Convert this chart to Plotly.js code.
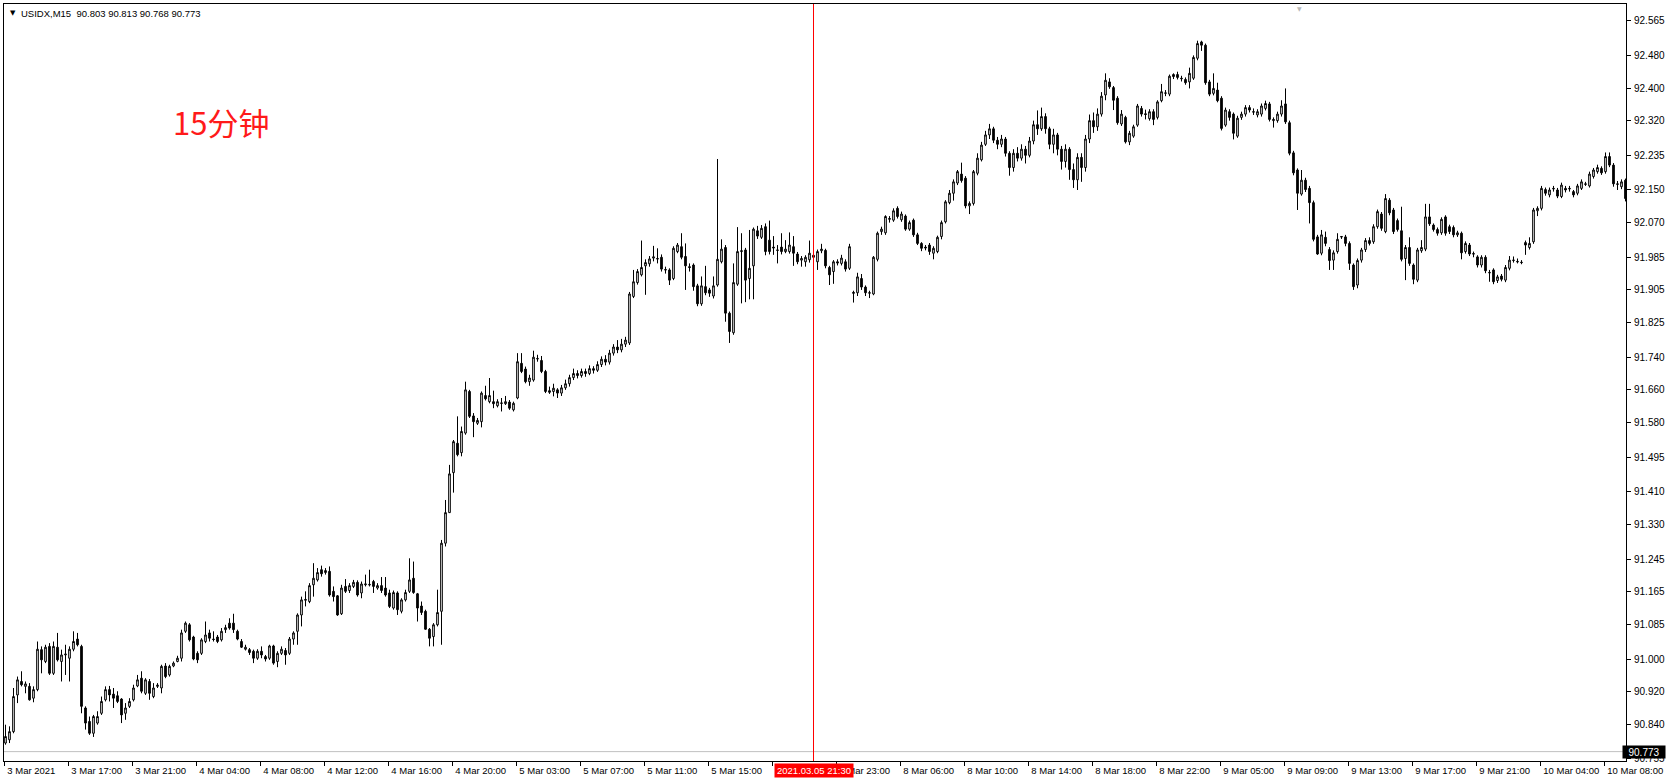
<!DOCTYPE html>
<html><head><meta charset="utf-8">
<script src="https://cdn.plot.ly/plotly-3.0.1.min.js"></script>
<style>html,body{margin:0;padding:0;background:#fff;overflow:hidden;} #chart{width:1669px;height:784px;}</style>
</head><body><div id="chart"></div>
<script>
const symbol = "USIDX,M15";
const headerValues = ["90.803", "90.813", "90.768", "90.773"];
const noteText = "15分钟";
const cursorBar = 202;
const cursorLabel = "2021.03.05 21:30";
const bidPrice = 90.773;

const openP = [
90.794,90.802,90.822,90.912,90.945,90.933,90.933,90.904,90.925,91.023,
90.994,91.031,90.965,91.029,90.994,91.010,91.002,91.024,91.049,91.031,
90.880,90.847,90.818,90.843,90.867,90.900,90.925,90.914,90.910,90.902,
90.867,90.884,90.900,90.934,90.953,90.916,90.945,90.908,90.933,90.929,
90.983,90.961,90.983,90.994,91.002,91.068,91.084,91.054,91.014,91.014,
91.043,91.064,91.049,91.054,91.047,91.072,91.088,91.088,91.068,91.043,
91.024,91.023,91.019,91.002,91.019,91.006,91.002,91.032,90.994,91.014,
91.021,91.014,91.049,91.068,91.108,91.144,91.141,91.182,91.194,91.219,
91.212,91.215,91.166,91.155,91.111,91.178,91.168,91.178,91.188,91.162,
91.182,91.183,91.190,91.174,91.180,91.174,91.162,91.125,91.162,91.117,
91.145,91.166,91.198,91.160,91.130,91.117,91.073,91.055,91.084,91.117,
91.284,91.359,91.457,91.529,91.506,91.554,91.656,91.596,91.578,91.582,
91.646,91.631,91.631,91.621,91.628,91.626,91.630,91.611,91.640,91.725,
91.711,91.680,91.684,91.737,91.732,91.705,91.658,91.656,91.660,91.652,
91.665,91.675,91.690,91.700,91.695,91.705,91.700,91.712,91.708,91.722,
91.735,91.728,91.750,91.765,91.758,91.772,91.775,91.889,91.923,91.942,
91.964,91.969,91.983,91.982,91.985,91.955,91.954,91.933,91.999,92.011,
91.987,91.962,91.966,91.915,91.871,91.913,91.905,91.890,91.917,91.974,
92.009,91.848,91.800,91.919,91.999,92.003,91.933,91.964,92.050,92.034,
92.060,92.027,92.010,92.003,92.010,91.999,91.999,92.011,91.993,91.978,
91.974,91.979,91.990,91.974,92.001,92.002,91.960,91.950,91.974,91.970,
91.974,91.958,91.899,91.898,91.933,91.912,91.897,91.895,91.980,92.048,
92.045,92.078,92.076,92.105,92.077,92.086,92.054,92.076,92.040,92.019,
92.010,92.015,91.995,91.999,92.036,92.072,92.119,92.142,92.167,92.189,
92.179,92.111,92.117,92.191,92.224,92.262,92.285,92.300,92.272,92.262,
92.275,92.240,92.205,92.240,92.228,92.250,92.235,92.270,92.310,92.300,
92.330,92.300,92.262,92.285,92.250,92.220,92.250,92.200,92.175,92.230,
92.205,92.275,92.320,92.305,92.336,92.383,92.415,92.401,92.375,92.312,
92.328,92.268,92.282,92.309,92.350,92.337,92.325,92.342,92.328,92.369,
92.387,92.385,92.433,92.433,92.424,92.421,92.415,92.424,92.473,92.513,
92.505,92.415,92.387,92.395,92.375,92.309,92.342,92.336,92.282,92.328,
92.336,92.352,92.342,92.334,92.336,92.350,92.361,92.320,92.320,92.336,
92.361,92.315,92.241,92.199,92.140,92.174,92.154,92.119,92.035,91.995,
92.034,92.004,91.978,91.999,92.036,92.035,92.019,91.966,91.917,91.978,
92.004,92.026,92.023,92.060,92.091,92.048,92.125,92.101,92.075,92.050,
91.982,92.009,91.966,91.929,92.001,92.005,92.084,92.064,92.053,92.045,
92.084,92.060,92.058,92.040,92.044,91.999,92.015,91.994,91.986,91.966,
91.985,91.948,91.954,91.928,91.939,91.929,91.958,91.977,91.975,91.973,
92.021,92.009,92.023,92.099,92.105,92.151,92.138,92.154,92.150,92.134,
92.154,92.154,92.146,92.142,92.154,92.165,92.160,92.183,92.195,92.203,
92.195,92.232,92.211,92.165,92.158,92.174
];
const highP = [
90.839,90.835,90.929,90.957,90.970,90.945,90.941,90.933,91.043,91.031,
91.035,91.039,91.043,91.064,91.023,91.035,91.031,91.068,91.064,91.035,
90.884,90.859,90.863,90.872,90.908,90.933,90.934,90.929,90.921,90.904,
90.892,90.904,90.937,90.961,90.970,90.953,90.951,90.941,90.941,90.986,
90.990,90.986,90.994,91.008,91.072,91.092,91.088,91.057,91.019,91.051,
91.092,91.072,91.068,91.059,91.076,91.084,91.100,91.111,91.072,91.049,
91.035,91.027,91.023,91.024,91.031,91.010,91.035,91.035,91.019,91.031,
91.027,91.054,91.068,91.112,91.153,91.166,91.186,91.235,91.223,91.229,
91.223,91.227,91.178,91.157,91.182,91.196,91.186,91.194,91.193,91.190,
91.207,91.219,91.194,91.186,91.201,91.201,91.170,91.168,91.166,91.149,
91.170,91.247,91.239,91.162,91.141,91.121,91.076,91.088,91.170,91.292,
91.390,91.476,91.537,91.595,91.570,91.680,91.660,91.603,91.591,91.656,
91.670,91.689,91.658,91.637,91.640,91.645,91.635,91.631,91.750,91.750,
91.717,91.697,91.756,91.746,91.743,91.709,91.668,91.675,91.664,91.672,
91.685,91.697,91.712,91.708,91.712,91.712,91.720,91.718,91.730,91.742,
91.745,91.758,91.772,91.782,91.785,91.790,91.900,91.954,91.956,92.026,
91.980,91.988,92.013,92.007,91.992,91.962,91.958,92.012,92.020,92.044,
92.019,91.970,91.970,91.920,91.938,91.964,91.910,91.938,92.226,92.029,
92.015,91.852,91.970,92.059,92.044,92.008,92.052,92.058,92.062,92.064,
92.068,92.075,92.037,92.015,92.044,92.027,92.046,92.037,91.998,91.988,
91.990,92.026,91.998,92.004,92.018,92.006,91.964,91.978,91.980,91.991,
91.980,92.018,91.903,91.947,91.944,91.916,91.903,91.988,92.048,92.060,
92.088,92.086,92.105,92.110,92.097,92.090,92.075,92.080,92.045,92.022,
92.015,92.020,92.012,92.038,92.075,92.125,92.150,92.176,92.199,92.217,
92.184,92.122,92.199,92.240,92.268,92.295,92.312,92.305,92.280,92.285,
92.280,92.245,92.250,92.255,92.262,92.258,92.280,92.320,92.345,92.352,
92.338,92.305,92.300,92.290,92.258,92.262,92.255,92.215,92.240,92.240,
92.285,92.335,92.340,92.350,92.390,92.436,92.424,92.405,92.380,92.346,
92.332,92.295,92.310,92.361,92.356,92.347,92.348,92.348,92.370,92.410,
92.395,92.433,92.436,92.440,92.430,92.426,92.450,92.480,92.516,92.516,
92.509,92.420,92.436,92.413,92.380,92.352,92.348,92.340,92.332,92.342,
92.358,92.358,92.350,92.348,92.362,92.369,92.366,92.328,92.342,92.370,
92.399,92.320,92.246,92.203,92.199,92.180,92.160,92.124,92.040,92.052,
92.048,92.010,92.002,92.044,92.037,92.040,92.024,91.970,91.982,92.008,
92.032,92.034,92.066,92.102,92.096,92.140,92.130,92.106,92.080,92.109,
92.015,92.034,91.970,92.008,92.027,92.116,92.116,92.068,92.058,92.083,
92.088,92.065,92.063,92.050,92.048,92.024,92.020,91.999,91.990,91.990,
91.990,91.954,91.958,91.942,91.944,91.966,91.988,91.987,91.982,91.978,
92.026,92.034,92.106,92.110,92.160,92.156,92.156,92.160,92.155,92.168,
92.160,92.160,92.150,92.165,92.176,92.170,92.195,92.204,92.212,92.208,
92.242,92.242,92.216,92.172,92.176,92.178
];
const lowP = [
90.790,90.794,90.818,90.892,90.933,90.916,90.898,90.894,90.921,90.965,
90.990,90.961,90.961,90.994,90.945,90.961,90.945,91.019,91.031,90.867,
90.827,90.814,90.809,90.839,90.863,90.896,90.896,90.880,90.892,90.843,
90.851,90.880,90.896,90.931,90.916,90.912,90.900,90.904,90.929,90.916,
90.953,90.957,90.980,90.992,90.994,91.064,91.043,90.997,90.990,91.010,
91.039,91.043,91.043,91.039,91.043,91.064,91.072,91.064,91.046,91.027,
91.021,91.010,90.990,90.998,91.002,90.994,90.998,90.986,90.980,91.010,
90.986,91.010,91.035,91.035,91.080,91.129,91.137,91.153,91.190,91.202,
91.207,91.153,91.141,91.106,91.108,91.162,91.162,91.174,91.153,91.149,
91.178,91.178,91.162,91.170,91.162,91.153,91.125,91.121,91.108,91.112,
91.141,91.162,91.160,91.092,91.108,91.072,91.031,91.031,91.080,91.035,
91.276,91.358,91.408,91.497,91.497,91.550,91.591,91.544,91.574,91.568,
91.634,91.627,91.615,91.617,91.607,91.623,91.611,91.607,91.637,91.701,
91.676,91.670,91.680,91.729,91.701,91.652,91.650,91.644,91.640,91.645,
91.660,91.668,91.684,91.688,91.690,91.692,91.696,91.700,91.704,91.716,
91.720,91.722,91.744,91.750,91.752,91.765,91.770,91.885,91.918,91.938,
91.893,91.962,91.975,91.970,91.950,91.945,91.917,91.929,91.995,91.980,
91.905,91.950,91.903,91.865,91.866,91.892,91.888,91.884,91.913,91.970,
91.827,91.775,91.795,91.915,91.872,91.875,91.882,91.882,92.030,92.030,
91.990,91.992,91.991,91.970,91.992,91.995,91.994,91.964,91.968,91.962,
91.962,91.972,91.975,91.954,91.995,91.958,91.917,91.920,91.965,91.965,
91.950,91.954,91.874,91.890,91.905,91.890,91.885,91.892,91.975,92.040,
92.040,92.070,92.072,92.080,92.072,92.050,92.050,92.035,92.015,92.000,
92.002,91.991,91.980,91.995,92.029,92.068,92.115,92.124,92.162,92.168,
92.105,92.091,92.112,92.186,92.220,92.258,92.275,92.265,92.250,92.255,
92.232,92.185,92.195,92.220,92.222,92.215,92.230,92.262,92.285,92.295,
92.288,92.250,92.240,92.235,92.200,92.205,92.175,92.155,92.150,92.170,
92.195,92.265,92.290,92.295,92.330,92.370,92.398,92.346,92.310,92.307,
92.264,92.260,92.278,92.305,92.330,92.323,92.320,92.309,92.323,92.365,
92.380,92.380,92.422,92.421,92.416,92.408,92.399,92.420,92.468,92.491,
92.408,92.380,92.382,92.365,92.296,92.305,92.320,92.274,92.278,92.322,
92.330,92.340,92.334,92.328,92.330,92.345,92.318,92.303,92.315,92.330,
92.312,92.235,92.186,92.101,92.136,92.145,92.068,92.024,91.991,91.990,
92.012,91.954,91.954,91.994,92.030,92.012,91.954,91.905,91.909,91.972,
91.998,92.014,92.018,92.055,92.050,92.044,92.088,92.042,92.048,91.975,
91.929,91.964,91.919,91.924,91.996,92.000,92.062,92.048,92.038,92.040,
92.038,92.042,92.034,92.035,91.980,91.994,91.988,91.985,91.960,91.960,
91.946,91.925,91.919,91.922,91.926,91.924,91.953,91.972,91.970,91.968,
91.991,92.004,92.018,92.086,92.100,92.136,92.132,92.146,92.130,92.130,
92.144,92.146,92.132,92.137,92.150,92.160,92.156,92.178,92.190,92.187,
92.190,92.206,92.158,92.150,92.152,92.122
];
const closeP = [
90.810,90.822,90.908,90.949,90.937,90.939,90.900,90.925,91.024,90.998,
91.029,90.965,91.031,90.998,91.010,91.012,91.024,91.043,91.035,90.884,
90.843,90.818,90.859,90.859,90.896,90.925,90.912,90.904,90.896,90.863,
90.880,90.896,90.929,90.949,90.921,90.949,90.916,90.929,90.936,90.982,
90.957,90.982,90.990,91.002,91.064,91.088,91.047,91.000,90.998,91.047,
91.059,91.051,91.048,91.043,91.068,91.077,91.076,91.072,91.049,91.029,
91.029,91.016,91.002,91.019,91.010,91.000,91.032,90.990,91.014,91.024,
91.010,91.049,91.064,91.108,91.145,91.146,91.180,91.198,91.212,91.209,
91.217,91.157,91.153,91.108,91.174,91.166,91.180,91.188,91.157,91.184,
91.184,91.182,91.178,91.180,91.168,91.157,91.129,91.163,91.121,91.145,
91.163,91.194,91.163,91.125,91.114,91.073,91.051,91.084,91.114,91.284,
91.359,91.454,91.533,91.501,91.558,91.660,91.595,91.582,91.585,91.652,
91.638,91.646,91.626,91.631,91.627,91.631,91.615,91.627,91.729,91.705,
91.680,91.689,91.740,91.736,91.705,91.656,91.654,91.664,91.652,91.665,
91.675,91.690,91.700,91.695,91.705,91.700,91.712,91.708,91.722,91.735,
91.728,91.750,91.765,91.758,91.772,91.782,91.895,91.925,91.950,91.960,
91.972,91.981,91.986,91.981,91.956,91.954,91.929,92.007,92.015,91.985,
91.964,91.960,91.913,91.871,91.915,91.898,91.897,91.915,91.980,92.005,
91.848,91.803,91.923,91.999,92.001,91.929,91.958,92.054,92.037,92.056,
91.999,91.999,92.008,92.002,91.999,92.005,92.015,91.995,91.974,91.982,
91.985,91.995,91.985,91.999,92.005,91.964,91.942,91.974,91.971,91.983,
91.956,92.011,91.897,91.937,91.912,91.898,91.898,91.985,92.044,92.054,
92.085,92.080,92.099,92.085,92.091,92.054,92.070,92.040,92.019,92.007,
92.008,91.999,92.007,92.034,92.070,92.121,92.142,92.170,92.195,92.173,
92.111,92.117,92.195,92.228,92.260,92.285,92.300,92.272,92.262,92.275,
92.240,92.205,92.240,92.228,92.250,92.235,92.270,92.310,92.300,92.330,
92.300,92.262,92.285,92.250,92.220,92.250,92.200,92.175,92.230,92.205,
92.275,92.320,92.305,92.336,92.380,92.419,92.403,92.370,92.315,92.336,
92.268,92.289,92.305,92.356,92.336,92.335,92.342,92.323,92.366,92.391,
92.388,92.429,92.428,92.426,92.423,92.413,92.436,92.475,92.509,92.505,
92.413,92.385,92.399,92.369,92.301,92.346,92.328,92.289,92.326,92.336,
92.352,92.346,92.341,92.342,92.356,92.362,92.323,92.323,92.336,92.356,
92.317,92.240,92.192,92.142,92.174,92.151,92.119,92.029,91.993,92.040,
92.019,91.977,91.996,92.029,92.035,92.019,91.970,91.913,91.977,92.003,
92.026,92.019,92.060,92.097,92.056,92.129,92.094,92.048,92.053,91.980,
92.009,91.970,91.931,92.003,92.009,92.084,92.067,92.053,92.044,92.078,
92.044,92.048,92.040,92.045,91.996,92.019,91.993,91.993,91.966,91.985,
91.952,91.947,91.925,91.937,91.931,91.960,91.978,91.978,91.974,91.972,
92.015,92.019,92.101,92.105,92.154,92.142,92.150,92.153,92.135,92.162,
92.150,92.153,92.138,92.160,92.170,92.164,92.189,92.199,92.205,92.192,
92.232,92.211,92.165,92.164,92.170,92.129
];

const timeLabels = ["3 Mar 2021","3 Mar 17:00","3 Mar 21:00","4 Mar 04:00","4 Mar 08:00","4 Mar 12:00",
  "4 Mar 16:00","4 Mar 20:00","5 Mar 03:00","5 Mar 07:00","5 Mar 11:00","5 Mar 15:00","5 Mar 19:00",
  "5 Mar 23:00","8 Mar 06:00","8 Mar 10:00","8 Mar 14:00","8 Mar 18:00","8 Mar 22:00","9 Mar 05:00",
  "9 Mar 09:00","9 Mar 13:00","9 Mar 17:00","9 Mar 21:00","10 Mar 04:00","10 Mar 08:00"];
const barsPerLabel = 16;
const priceTicks = [92.565,92.480,92.400,92.320,92.235,92.150,92.070,91.985,91.905,91.825,91.740,91.660,
  91.580,91.495,91.410,91.330,91.245,91.165,91.085,91.000,90.920,90.840,90.755];

const n = closeP.length;
const xs = closeP.map((_, i) => i);
const font = "Liberation Sans, Arial, sans-serif";

const trace = {
  type: 'candlestick', x: xs, open: openP, high: highP, low: lowP, close: closeP,
  increasing: {line: {color: '#000', width: 1}, fillcolor: '#ffffff'},
  decreasing: {line: {color: '#000', width: 1}, fillcolor: '#000000'},
  whiskerwidth: 0, hoverinfo: 'skip', showlegend: false
};

const layout = {
  width: 1669, height: 784,
  margin: {l: 4, r: 43, t: 4, b: 23, pad: 0},
  paper_bgcolor: '#ffffff', plot_bgcolor: '#ffffff',
  showlegend: false, boxgap: 0.4,
  font: {family: font, size: 10, color: '#000'},
  xaxis: {
    type: 'linear', range: [-0.375, n - 0.875], fixedrange: true,
    rangeslider: {visible: false},
    showgrid: false, zeroline: false,
    showline: true, linecolor: '#000', linewidth: 1, mirror: true,
    ticks: 'outside', ticklen: 4, tickcolor: '#000', tickwidth: 1,
    tickvals: timeLabels.map((_, k) => k * barsPerLabel - 0.3),
    ticktext: timeLabels, tickangle: 0,
    ticklabelposition: 'outside right', ticklabelshift: 2, ticklabelstandoff: 1,
    tickfont: {family: font, size: 9.5, color: '#000'}
  },
  yaxis: {
    side: 'right', range: [90.750, 92.606], fixedrange: true,
    showgrid: false, zeroline: false,
    showline: true, linecolor: '#000', linewidth: 1, mirror: true,
    ticks: 'outside', ticklen: 4, tickcolor: '#000', tickwidth: 1,
    tickvals: priceTicks, ticktext: priceTicks.map(v => v.toFixed(3)),
    ticklabelstandoff: 1,
    tickfont: {family: font, size: 10, color: '#000'}
  },
  shapes: [
    {type: 'line', xref: 'paper', yref: 'y', x0: 0, x1: 1, y0: bidPrice, y1: bidPrice,
     line: {color: '#c0c0c0', width: 1}, layer: 'below'},
    {type: 'line', xref: 'x', yref: 'paper', x0: cursorBar, x1: cursorBar, y0: 0, y1: 1,
     line: {color: '#ff0000', width: 1}}
  ],
  annotations: [
    {xref: 'paper', yref: 'paper', x: 0, y: 1, xanchor: 'left', yanchor: 'middle', xshift: 4, yshift: -9,
     text: '▼', showarrow: false, font: {family: 'DejaVu Sans', size: 7, color: '#000'}},
    {xref: 'paper', yref: 'paper', x: 0, y: 1, xanchor: 'left', yanchor: 'middle', xshift: 15, yshift: -9,
     text: symbol + '\u00a0\u00a0' + headerValues.join(' '), showarrow: false,
     font: {family: font, size: 9.5, color: '#000'}},
    {xref: 'paper', yref: 'paper', x: 0, y: 1, xanchor: 'left', yanchor: 'middle', xshift: 167, yshift: -117,
     text: noteText, showarrow: false, font: {family: 'Noto Sans CJK SC', size: 31, color: '#ff1a1a'}},
    {xref: 'paper', yref: 'paper', x: 0.799, y: 1, xanchor: 'center', yanchor: 'top', yshift: 1,
     text: '▼', showarrow: false, font: {family: 'DejaVu Sans', size: 6, color: '#b8b8b8'}},
    {xref: 'x', yref: 'paper', x: cursorBar, y: 0, xanchor: 'center', yanchor: 'top', yshift: -2,
     text: cursorLabel, showarrow: false, bgcolor: '#ff0000', borderpad: 1, width: 76, height: 11,
     font: {family: font, size: 9.5, color: '#ffffff'}},
    {xref: 'paper', yref: 'y', x: 1, y: bidPrice, xanchor: 'left', yanchor: 'middle', xshift: -4,
     text: bidPrice.toFixed(3), showarrow: false, bgcolor: '#000000', borderpad: 1, width: 40, height: 10,
     font: {family: font, size: 10, color: '#ffffff'}}
  ]
};

Plotly.newPlot('chart', [trace], layout, {staticPlot: true, displayModeBar: false});
</script>
</body></html>
